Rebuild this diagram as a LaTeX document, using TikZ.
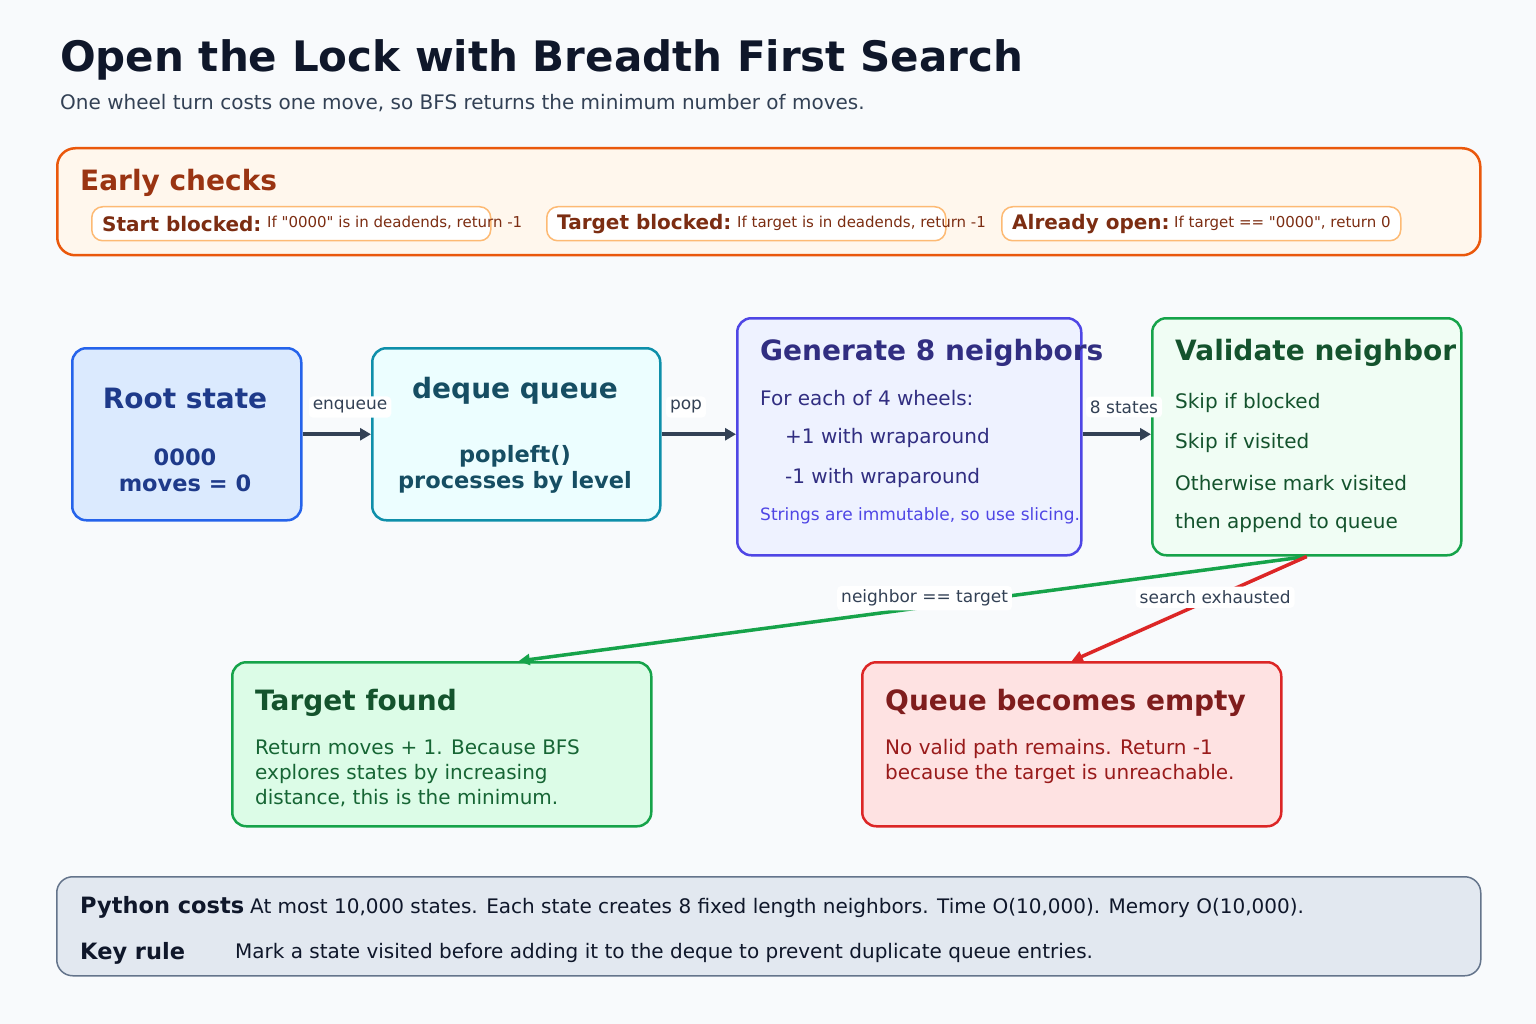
\documentclass[tikz,border=0pt]{standalone}
\usepackage{fontspec}
\setmainfont{DejaVu Sans}
\newfontfamily\rawfont{DejaVu Sans}
\usetikzlibrary{arrows.meta}
\definecolor{bgc}{HTML}{F8FAFC}
\definecolor{inkc}{HTML}{0F172A}
\definecolor{subc}{HTML}{334155}
\definecolor{orline}{HTML}{EA580C}
\definecolor{orfill}{HTML}{FFF7ED}
\definecolor{ortext}{HTML}{9A3412}
\definecolor{pillline}{HTML}{FDBA74}
\definecolor{pilltext}{HTML}{7C2D12}
\definecolor{blline}{HTML}{2563EB}
\definecolor{blfill}{HTML}{DBEAFE}
\definecolor{bltext}{HTML}{1E3A8A}
\definecolor{tlline}{HTML}{0E8FAA}
\definecolor{tlfill}{HTML}{ECFEFF}
\definecolor{tltext}{HTML}{164E63}
\definecolor{inline}{HTML}{4F46E5}
\definecolor{infill}{HTML}{EEF2FF}
\definecolor{intext}{HTML}{312E81}
\definecolor{grline}{HTML}{16A34A}
\definecolor{grfill}{HTML}{F0FDF4}
\definecolor{grfilltwo}{HTML}{DCFCE7}
\definecolor{grtext}{HTML}{14532D}
\definecolor{grbody}{HTML}{166534}
\definecolor{rdline}{HTML}{DC2626}
\definecolor{rdfill}{HTML}{FEE2E2}
\definecolor{rdtext}{HTML}{7F1D1D}
\definecolor{rdbody}{HTML}{991B1B}
\definecolor{slline}{HTML}{64748B}
\definecolor{slfill}{HTML}{E2E8F0}
\newcommand{\fsz}[1]{\fontsize{#1}{#1}\selectfont}
\tikzstyle{every node}=[inner sep=0pt]
\tikzset{box/.style={draw, rounded corners=14pt, line width=2.5pt, anchor=north west}}
\tikzset{pill/.style={draw=pillline, fill=white, rounded corners=11pt, line width=1.5pt,
      anchor=north west, minimum width=399pt, minimum height=34pt}}
\tikzset{txt/.style={anchor=west}}
\tikzset{flow/.style={line width=4pt, draw=subc, -{Triangle[length=11pt,width=12pt]}}}
\tikzset{tag/.style={fill=white, rounded corners=4pt, inner sep=4pt, text=subc, font=\fsz{17}}}

\begin{document}
\begin{tikzpicture}[x=1pt,y=-1pt]
    \fill[bgc] (0,0) rectangle (1536,1024);
    \useasboundingbox (0,0) rectangle (1536,1024);

    \node[txt, text=inkc, font=\bfseries\fsz{42}] (title) at (60,60) {Open the Lock with Breadth First Search};
    \node[txt, text=subc, font=\fsz{20}] (subtitle) at (60,103) {One wheel turn costs one move, so BFS returns the minimum number of moves.};

    \node[box, draw=orline, fill=orfill, rounded corners=18pt, minimum width=1423pt, minimum height=107pt] (early) at (56,147) {};
    \node[txt, text=ortext, font=\bfseries\fsz{28}] (earlyt) at (80,183) {Early checks};
    \node[pill] (pa) at (91,206) {};
    \node[pill] (pb) at (546,206) {};
    \node[pill] (pc) at (1001,206) {};
    \node[txt, text=pilltext, font=\bfseries\fsz{20}] (pat) at (102,224) {Start blocked:};
    \node[txt, text=pilltext, font=\rawfont\fsz{15}] (pad) at (267,223) {If "0000" is in deadends, return -1};
    \node[txt, text=pilltext, font=\bfseries\fsz{20}] (pbt) at (557,224) {Target blocked:};
    \node[txt, text=pilltext, font=\rawfont\fsz{15}] (pbd) at (737,223) {If target is in deadends, return -1};
    \node[txt, text=pilltext, font=\bfseries\fsz{20}] (pct) at (1012,224) {Already open:};
    \node[txt, text=pilltext, font=\rawfont\fsz{15}] (pcd) at (1174,223) {If target == "0000", return 0};

    \node[box, draw=blline, fill=blfill, minimum width=229pt, minimum height=172pt] (root) at (71,347) {};
    \node[text=bltext, font=\bfseries\fsz{28}] (roott) at (185,398) {Root state};
    \node[text=bltext, font=\bfseries\fontsize{22.5}{26}\selectfont, align=center] (rootv) at (185,470) {0000\\moves = 0};

    \node[box, draw=tlline, fill=tlfill, minimum width=288pt, minimum height=172pt] (deque) at (371,347) {};
    \node[text=tltext, font=\bfseries\fsz{28}] (dequet) at (515,391) {deque queue};
    \node[text=tltext, font=\bfseries\fontsize{22.5}{26}\selectfont, align=center] (dequev) at (515,469) {popleft()\\processes by level};

    \node[box, draw=inline, fill=infill, minimum width=344pt, minimum height=237pt] (gen) at (736,317) {};
    \node[txt, text=intext, font=\bfseries\fsz{28}] (gent) at (760,353) {Generate 8 neighbors};
    \node[txt, text=intext, font=\fsz{20}] (gena) at (760,398) {For each of 4 wheels:};
    \node[txt, text=intext, font=\fsz{20}] (genb) at (785,438) {+1 with wraparound};
    \node[txt, text=intext, font=\fsz{20}] (genc) at (785,478) {-1 with wraparound};
    \node[txt, text=inline, font=\fsz{17}] (gend) at (760,516) {Strings are immutable, so use slicing.};

    \node[box, draw=grline, fill=grfill, minimum width=309pt, minimum height=237pt] (valid) at (1151,317) {};
    \node[txt, text=grtext, font=\bfseries\fsz{28}] (validt) at (1175,353) {Validate neighbor};
    \node[txt, text=grtext, font=\fsz{20}] (valida) at (1175,403) {Skip if blocked};
    \node[txt, text=grtext, font=\fsz{20}] (validb) at (1175,443) {Skip if visited};
    \node[txt, text=grtext, font=\fsz{20}] (validc) at (1175,483) {Otherwise mark visited};
    \node[txt, text=grtext, font=\fsz{20}] (validd) at (1175,523) {then append to queue};

    \node[box, draw=grline, fill=grfilltwo, minimum width=419pt, minimum height=164pt] (found) at (231,661) {};
    \node[txt, text=grtext, font=\bfseries\fsz{28}] (foundt) at (255,703) {Target found};
    \node[txt, text=grbody, font=\fontsize{20}{25}\selectfont, align=left] (foundb) at (255,773)
      {Return moves + 1. Because BFS\\explores states by increasing\\distance, this is the minimum.};

    \node[box, draw=rdline, fill=rdfill, minimum width=419pt, minimum height=164pt] (empty) at (861,661) {};
    \node[txt, text=rdtext, font=\bfseries\fsz{28}] (emptyt) at (885,703) {Queue becomes empty};
    \node[txt, text=rdbody, font=\fontsize{20}{25}\selectfont, align=left] (emptyb) at (885,761)
      {No valid path remains. Return -1\\because the target is unreachable.};

    \node[box, draw=slline, fill=slfill, line width=1.5pt, rounded corners=16pt, minimum width=1424pt, minimum height=99pt] (costs) at (56,876) {};
    \node[txt, text=inkc, font=\bfseries\fsz{22.5}] (costt) at (80,907) {Python costs};
    \node[txt, text=inkc, font=\fsz{20}] (costd) at (250,908) {At most 10,000 states. Each state creates 8 fixed length neighbors. Time O(10,000). Memory O(10,000).};
    \node[txt, text=inkc, font=\bfseries\fsz{22.5}] (rulet) at (80,953) {Key rule};
    \node[txt, text=inkc, font=\fsz{20}] (ruled) at (235,953) {Mark a state visited before adding it to the deque to prevent duplicate queue entries.};

    \draw[flow] (root.east) -- (deque.west);
    \draw[flow] (deque.east) -- (deque.east -| gen.west);
    \draw[flow] (deque.east -| gen.east) -- (deque.east -| valid.west);
    \node[tag] (enq) at (350,407) {enqueue};
    \node[tag] (pop) at (686,407) {pop};
    \node[tag] (eight) at (1124,407) {8 states};

    \draw[line width=3.5pt, draw=grline, -{Triangle[length=11pt,width=11pt]}] (valid.south) -- ([xshift=77pt]found.north)
      node[tag, pos=0.485, yshift=9pt] (hit) {neighbor == target};
    \draw[line width=3.5pt, draw=rdline, -{Triangle[length=11pt,width=11pt]}] (valid.south) -- (empty.north)
      node[tag, pos=0.39] (miss) {search exhausted};
  \end{tikzpicture}
\end{document}
